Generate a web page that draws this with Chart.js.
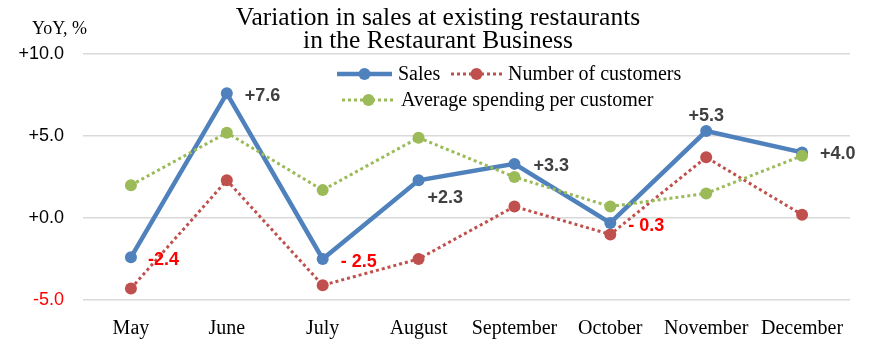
<!DOCTYPE html>
<html>
<head>
<meta charset="utf-8">
<script src="https://cdn.jsdelivr.net/npm/chart.js@4"></script>
<style>
  html, body { margin:0; padding:0; background:#fff; }
  #wrap { width:877px; height:354px; position:relative; }
</style>
</head>
<body>
<div id="wrap"><canvas id="chart"></canvas></div>
<script>
const months = ['May','June','July','August','September','October','November','December'];
const sales = [-2.4, 7.6, -2.5, 2.3, 3.3, -0.3, 5.3, 4.0];
const customers = [-4.3, 2.3, -4.1, -2.5, 0.7, -1.0, 3.7, 0.2];
const spending = [2.0, 5.2, 1.7, 4.9, 2.5, 0.7, 1.5, 3.8];
const salesText = ['-2.4','+7.6','- 2.5','+2.3','+3.3','- 0.3','+5.3','+4.0'];
const yTicks = [-5, 0, 5, 10];

const BLUE = '#4F81BD', RED = '#C0504D', GREEN = '#9BBB59';
const SERIF = '"Liberation Serif", "Times New Roman", serif';
const SANS = '"Liberation Sans", Arial, sans-serif';

// where each sales label sits relative to its point: [dx, dy, align]
const labelPos = [
  [17, 3, 'left'], [18, 3, 'left'], [18, 3, 'left'], [9, 18, 'left'],
  [19, 2, 'left'], [18, 3, 'left'], [0, -15, 'center'], [18, 2, 'left']
];

const decor = {
  id: 'decor',
  afterDatasetsDraw(chart) {
    const c = chart.ctx;
    c.save();
    // title
    c.fillStyle = '#000';
    c.textAlign = 'center'; c.textBaseline = 'middle';
    c.font = '25.5px ' + SERIF;
    c.fillText('Variation in sales at existing restaurants', 438, 18);
    c.fillText('in the Restaurant Business', 438, 41);
    c.textAlign = 'left';
    c.font = '18px ' + SERIF;
    c.fillText('YoY, %', 32, 29);

    // legend
    const item = (x1, x2, y, ds, text) => {
      c.strokeStyle = ds.borderColor;
      c.lineWidth = ds.borderWidth;
      c.setLineDash(ds.borderDash || []);
      c.beginPath(); c.moveTo(x1, y); c.lineTo(x2, y); c.stroke();
      c.setLineDash([]);
      c.fillStyle = ds.pointBackgroundColor;
      c.beginPath(); c.arc((x1 + x2) / 2, y, 6, 0, Math.PI * 2); c.fill();
      c.fillStyle = '#000';
      c.font = '20px ' + SERIF;
      c.textAlign = 'left'; c.textBaseline = 'middle';
      c.fillText(text, x2 + 6, y + 1);
    };
    const d = chart.data.datasets;
    item(337, 392, 74, d[0], 'Sales');
    item(451, 502, 74, d[1], 'Number of customers');
    item(342, 395, 100, d[2], 'Average spending per customer');

    // sales value labels
    const pts = chart.getDatasetMeta(0).data;
    c.font = 'bold 18px ' + SANS;
    c.textBaseline = 'middle';
    pts.forEach((p, i) => {
      const [dx, dy, al] = labelPos[i];
      c.fillStyle = sales[i] < 0 ? '#FF0000' : '#404040';
      c.textAlign = al;
      c.fillText(salesText[i], p.x + dx, p.y + dy);
    });
    c.restore();
  }
};

const lineDs = (label, data, color, width, dash, order) => ({
  label, data, order,
  borderColor: color, backgroundColor: color,
  pointBackgroundColor: color, pointBorderColor: color,
  borderWidth: width, borderDash: dash,
  pointRadius: 6, pointHoverRadius: 6, pointBorderWidth: 0,
  tension: 0, fill: false
});

new Chart(document.getElementById('chart'), {
  type: 'line',
  data: {
    labels: months,
    datasets: [
      lineDs('Sales', sales, BLUE, 4.5, [], 1),
      lineDs('Number of customers', customers, RED, 3, [3, 3], 2),
      lineDs('Average spending per customer', spending, GREEN, 3, [3, 3], 0)
    ]
  },
  options: {
    responsive: true, maintainAspectRatio: false, animation: false,
    devicePixelRatio: 1,
    layout: { padding: { top: 54, left: 0, right: 27, bottom: 0 } },
    plugins: { legend: { display: false }, title: { display: false }, tooltip: { enabled: false } },
    scales: {
      x: {
        grid: { display: false }, border: { display: false },
        offset: true,
        afterFit: s => { s.height = 54; },
        ticks: { color: '#000', font: { family: SERIF, size: 20 }, padding: 9, maxRotation: 0, autoSkip: false }
      },
      y: {
        min: -5, max: 10,
        afterBuildTicks: s => { s.ticks = yTicks.map(v => ({ value: v })); },
        afterFit: s => { s.width = 83; },
        grid: { color: '#D9D9D9', lineWidth: 1.5, drawTicks: false },
        border: { display: false },
        ticks: {
          padding: 19,
          font: { family: SANS, size: 18 },
          color: ctx => ctx.tick.value < 0 ? '#FF0000' : '#000',
          callback: v => (v < 0 ? '' : '+') + v.toFixed(1)
        }
      }
    }
  },
  plugins: [decor]
});
</script>
</body>
</html>
